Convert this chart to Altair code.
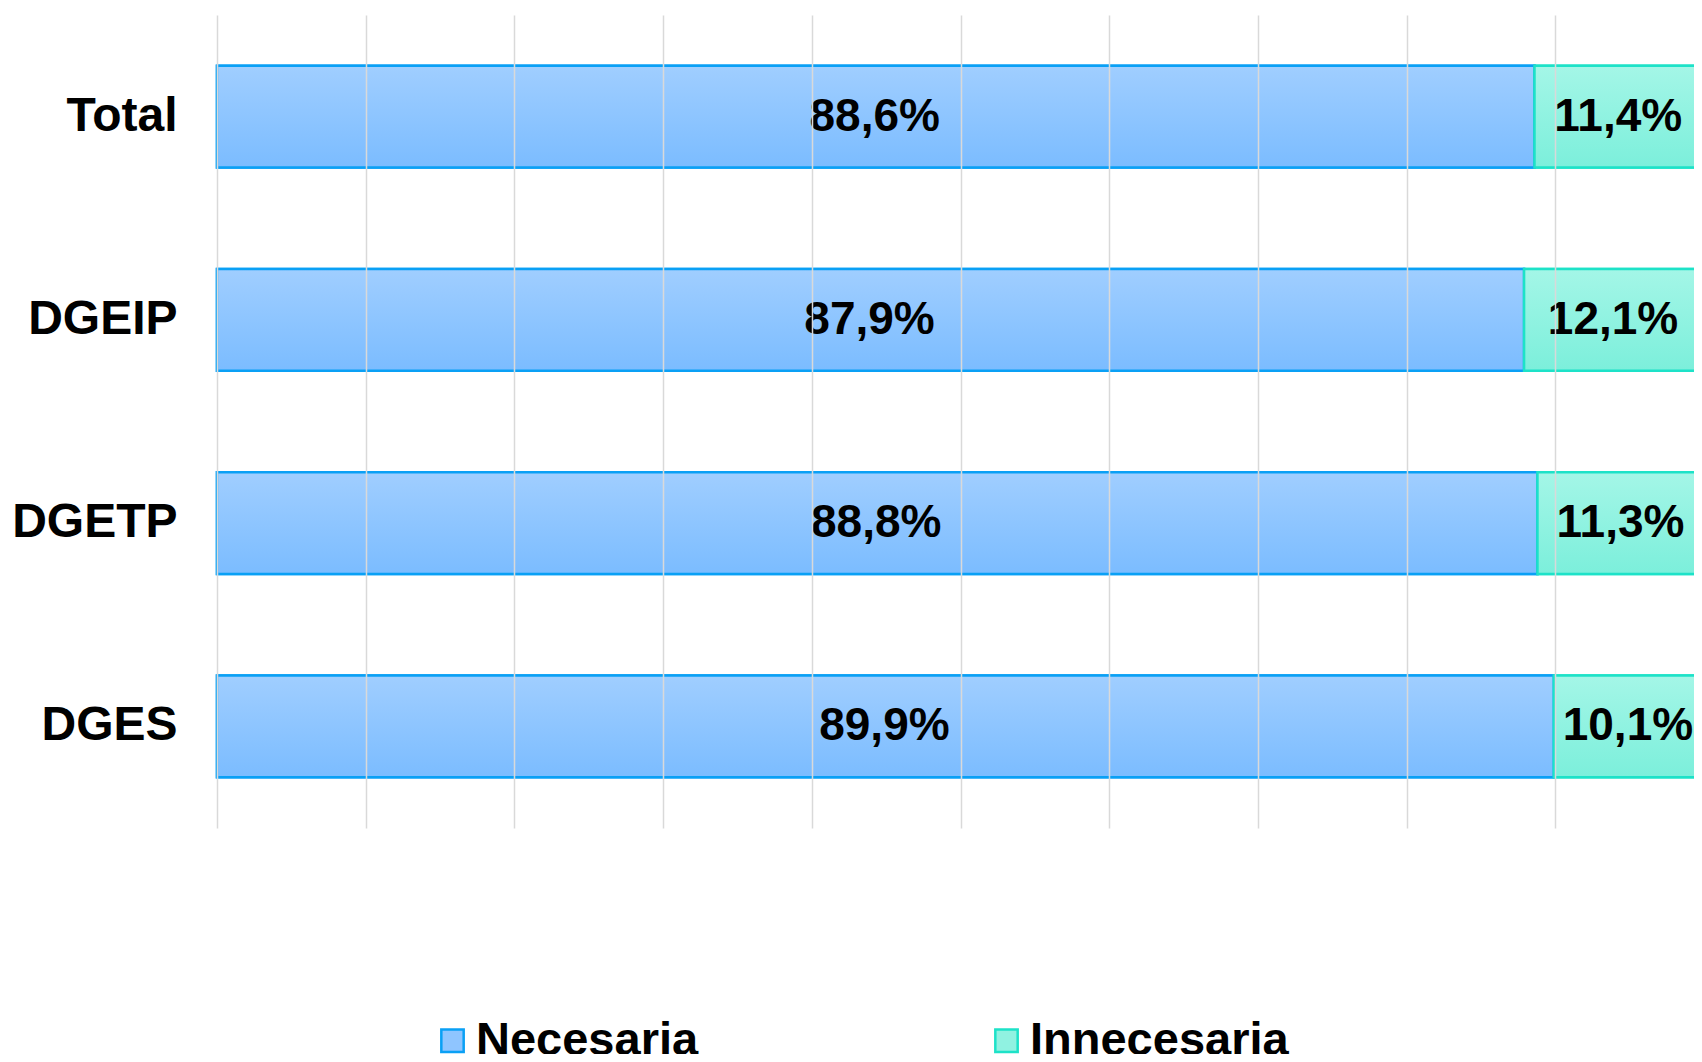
import altair as alt
import pandas as pd

# ---- data ----
categories = ["Total", "DGEIP", "DGETP", "DGES"]
necesaria = [88.6, 87.9, 88.8, 89.9]
innecesaria = [11.4, 12.1, 11.3, 10.1]
series = ["Necesaria", "Innecesaria"]
title_text = "toda la APE, en porcentajes."


def fmt(v):
    return f"{v:.1f}".replace(".", ",") + "%"


rows = []
for c, n, i in zip(categories, necesaria, innecesaria):
    rows.append({"cat": c, "serie": "Necesaria", "start": 0.0, "end": n, "label": fmt(n)})
    rows.append({"cat": c, "serie": "Innecesaria", "start": n, "end": n + i, "label": fmt(i)})
df = pd.DataFrame(rows)

FONT = "Liberation Sans"

x_scale = alt.Scale(domain=[0, 100], range=[0, 1487], nice=False, zero=True)
x_axis = alt.Axis(title=None, labels=False, ticks=False, domain=False, grid=True,
                  gridColor="#d9d9d9", gridWidth=1.5, tickCount=10, zindex=1)
y_scale = alt.Scale(domain=categories, paddingInner=0.5, paddingOuter=0.25)
y_axis = alt.Axis(title=None, labelFont=FONT, labelFontSize=48, labelFontWeight="bold",
                  labelColor="black", labelPadding=40, ticks=False, domain=False,
                  grid=False, labelLimit=0)

y_enc = alt.Y("cat:N", sort=categories, scale=y_scale, axis=y_axis)

leg = alt.Legend(title=None, orient="none", legendX=212, legendY=1002,
                 direction="horizontal", symbolType="square", symbolSize=500,
                 symbolStrokeWidth=2.5, labelFont=FONT, labelFontSize=47,
                 labelFontWeight="bold", labelColor="black", labelOffset=0,
                 columnPadding=284, padding=0, labelLimit=0)

base = alt.Chart(df)

legend_layer = base.mark_bar(strokeWidth=2.5).encode(
    x=alt.X("start:Q", scale=x_scale, axis=x_axis),
    x2="end:Q",
    y=y_enc,
    fill=alt.Fill("serie:N", sort=series,
                  scale=alt.Scale(domain=series, range=["#8fc5ff", "#90f2e1"]),
                  legend=leg),
    stroke=alt.Stroke("serie:N", sort=series,
                      scale=alt.Scale(domain=series, range=["#0aa0f5", "#1de2c8"]),
                      legend=leg),
)

grad_nec = base.transform_filter(alt.datum.serie == "Necesaria").mark_bar(
    fill=alt.Gradient(gradient="linear",
                      stops=[alt.GradientStop(color="#a0ceff", offset=0),
                             alt.GradientStop(color="#7bbcff", offset=1)],
                      x1=0, x2=0, y1=0, y2=1),
    stroke="#0aa0f5", strokeWidth=2.5,
).encode(
    x=alt.X("start:Q", scale=x_scale, axis=x_axis),
    x2="end:Q",
    y=y_enc,
)

grad_inn = base.transform_filter(alt.datum.serie == "Innecesaria").mark_bar(
    fill=alt.Gradient(gradient="linear",
                      stops=[alt.GradientStop(color="#a4f6e7", offset=0),
                             alt.GradientStop(color="#7cefdb", offset=1)],
                      x1=0, x2=0, y1=0, y2=1),
    stroke="#1de2c8", strokeWidth=2.5,
).encode(
    x=alt.X("start:Q", scale=x_scale, axis=x_axis),
    x2="end:Q",
    y=y_enc,
)

text = base.transform_calculate(mid="(datum.start + datum.end) / 2").mark_text(
    font=FONT, fontSize=46, fontWeight="bold", color="black",
    baseline="middle", align="center", dx=-1,
).encode(
    x=alt.X("mid:Q", scale=x_scale, axis=x_axis),
    y=y_enc,
    text="label:N",
)

chart = alt.layer(legend_layer, grad_nec, grad_inn, text).properties(
    width=1477,
    height=813,
    autosize="none",
    background="white",
    padding={"left": 209, "top": 7, "right": 0, "bottom": 226},
    title=alt.TitleParams(title_text, font="Open Sans", fontSize=50, fontWeight="bold",
                          color="black", anchor="middle", frame="group", dx=-70,
                          offset=4, baseline="alphabetic", orient="top"),
).configure_view(stroke=None)

chart.save("out.html", embed_options={"renderer": "svg", "actions": False})
